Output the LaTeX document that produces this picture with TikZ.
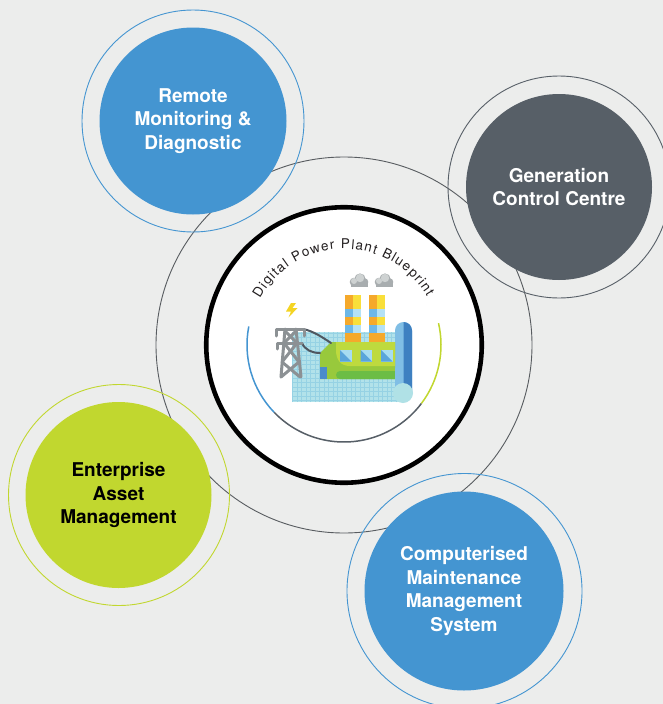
\documentclass[tikz,border=0pt]{standalone}
\usepackage{fontspec}
\setmainfont{TeX Gyre Heros}
\usetikzlibrary{decorations.text}

\definecolor{bgc}{RGB}{236,237,236}
\definecolor{hubblue}{RGB}{68,149,209}
\definecolor{hubgray}{RGB}{87,95,103}
\definecolor{hubgreen}{RGB}{193,215,47}
\definecolor{ringgray}{RGB}{88,92,96}
\definecolor{inkc}{RGB}{35,31,32}
% icon palette
\definecolor{paperc}{RGB}{178,226,234}
\definecolor{gridc}{RGB}{150,210,228}
\definecolor{rolllight}{RGB}{128,190,229}
\definecolor{rolldark}{RGB}{62,128,193}
\definecolor{curlc}{RGB}{176,225,230}
\definecolor{gmid}{RGB}{152,201,60}
\definecolor{glight}{RGB}{190,218,62}
\definecolor{gdark}{RGB}{108,189,69}
\definecolor{winlight}{RGB}{167,220,241}
\definecolor{windark}{RGB}{90,165,219}
\definecolor{sqblue}{RGB}{74,139,203}
\definecolor{warmA}{RGB}{245,169,43}
\definecolor{warmB}{RGB}{249,223,58}
\definecolor{coolA}{RGB}{109,184,232}
\definecolor{coolB}{RGB}{180,225,245}
\definecolor{cloudA}{RGB}{168,173,175}
\definecolor{cloudB}{RGB}{206,210,210}
\definecolor{pylonc}{RGB}{140,145,148}
\definecolor{cablec}{RGB}{79,87,96}
\definecolor{boltc}{RGB}{244,212,35}

\tikzset{
  bigring/.style={circle, draw=ringgray, line width=0.9pt, minimum size=376pt, inner sep=0pt},
  ring/.style={circle, draw=#1, line width=0.9pt, inner sep=0pt},
  hub/.style={circle, fill=#1, inner sep=0pt, align=center,
    font=\fontsize{19}{23.4}\selectfont\bfseries},
  core/.style={circle, draw=black, fill=white, line width=4.6pt, minimum size=275.5pt, inner sep=0pt},
  arcline/.style={line width=1.5pt, draw=#1},
}

\begin{document}
\begin{tikzpicture}[x=1pt,y=1pt]
\useasboundingbox (0,0) rectangle (663,-704);
\fill[bgc] (0,0) rectangle (663,-704);
\begin{scope}
\clip (0,0) rectangle (663,-704);

% large orbit behind everything
\node[bigring] (orbit) at (344,-345) {};

% thin outer rings
\node[ring=hubblue, minimum size=222pt] (rmdRing) at (193,-121) {};
\node[ring=hubgray, minimum size=222pt] (gccRing) at (559,-187) {};
\node[ring=hubgreen, minimum size=221pt] (eamRing) at (119,-495) {};
\node[ring=hubblue, minimum size=235pt] (cmmsRing) at (464.5,-591) {};

% filled discs with labels
\node[hub=hubblue, text=white, minimum size=187pt] (rmd) at (193,-121)
  {Remote\\Monitoring \&\\Diagnostic};
\node[hub=hubgray, text=white, minimum size=186pt] (gcc) at (559,-187)
  {Generation\\Control Centre};
\node[hub=hubgreen, text=black, minimum size=186pt] (eam) at (118.5,-495)
  {Enterprise\\Asset\\Management};
\node[hub=hubblue, text=white, minimum size=199pt] (cmms) at (464,-591)
  {Computerised\\Maintenance\\Management\\System};
\end{scope}

% central blueprint badge
\node[core] (core) at (344,-345) {};

% inner tricolour arc
\draw[arcline=hubblue] (344,-345) ++(169:97) arc[start angle=169, end angle=224, radius=97];
\draw[arcline=hubgray] (344,-345) ++(224:97) arc[start angle=224, end angle=323, radius=97];
\draw[arcline=hubgreen] (344,-345) ++(323:97) arc[start angle=323, end angle=373, radius=97];

% curved title
\path[decorate, decoration={text along path,
    text={|\fontsize{13.5}{13.5}\selectfont\color{inkc}|Digital Power Plant Blueprint},
    text align={fit to path}}]
  (344,-345) ++(151:96) arc[start angle=151, end angle=30, radius=96];

% ---- power plant icon ----
% blueprint sheet
\fill[paperc] (292,-332) rectangle (402,-402);
\begin{scope}
\clip (292,-332) rectangle (402,-402);
\draw[gridc, line width=0.5pt] (292,-332) grid[step=4.5] (402,-402);
\end{scope}
% rolled edge
\fill[rolllight] (395,-395) -- (395,-330.5) arc[start angle=180, end angle=0, radius=8.5] -- (412,-395) -- cycle;
\fill[rolldark] (403.5,-322) arc[start angle=90, end angle=0, radius=8.5] -- (412,-392) -- (403.5,-392) -- cycle;
\fill[curlc] (403,-393) circle (10);

% chimneys
\foreach \cx in {344.5,368.5}{
  \fill[warmA] (\cx,-295) rectangle ++(8,-14);
  \fill[warmB] (\cx+8,-295) rectangle ++(8,-14);
  \fill[coolA] (\cx,-309) rectangle ++(8,-8);
  \fill[coolB] (\cx+8,-309) rectangle ++(8,-8);
  \fill[warmA] (\cx,-317) rectangle ++(8,-8);
  \fill[warmB] (\cx+8,-317) rectangle ++(8,-8);
  \fill[coolA] (\cx,-325) rectangle ++(8,-8);
  \fill[coolB] (\cx+8,-325) rectangle ++(8,-8);
  \fill[warmA] (\cx,-333) rectangle ++(16,-9);
}

% smoke puffs
\foreach \px in {359,384}{
  \fill[cloudA] (\px-5,-282) circle (4.3);
  \fill[cloudA] (\px+1,-279) circle (5.6);
  \fill[cloudA] (\px+5.5,-282) circle (3.8);
  \fill[cloudA] (\px-8,-286.5) rectangle (\px+9,-282);
  \fill[cloudB] (\px+1,-278) circle (4.2);
  \fill[cloudB] (\px-5,-281) circle (3);
}

% factory hall
\fill[gmid] (320,-379) -- (320,-353) -- (331,-342) -- (395,-342) -- (395,-379) -- cycle;
\fill[glight] (336,-342) -- (395,-342) -- (395,-366) -- (350,-366)
  .. controls (340,-366) and (336,-359) .. (336,-350) -- cycle;
\fill[gdark, rounded corners=4pt] (336,-371) rectangle (399,-379);
\fill[rolllight] (395,-368) rectangle (399,-380);
\fill[sqblue] (319.5,-367) rectangle (327,-378.5);
\foreach \wx in {340,360.5,381}{
  \fill[winlight] (\wx,-350) rectangle ++(11.5,-11.5);
  \fill[windark] (\wx,-350) -- (\wx,-361.5) -- (\wx+11.5,-361.5) -- cycle;
}

% power lines
\draw[cablec, line width=2pt, line cap=round] (303,-329) .. controls (313,-331) and (322,-337) .. (331,-343);
\draw[cablec, line width=2pt, line cap=round] (302,-343) .. controls (305,-350) and (312,-353) .. (320,-353);

% pylon
\begin{scope}[pylonc, line width=3pt, line cap=round, line join=round]
\draw (276,-336) -- (276,-329) -- (304,-329) -- (304,-336);
\draw (277,-349) -- (277,-343) -- (302,-343);
\draw (285,-329) -- (281,-377);
\draw (296,-329) -- (301,-377);
\draw (285,-331) -- (297,-343) -- (282,-362) -- (300,-377);
\draw (296,-331) -- (284,-343) -- (299,-362) -- (281,-377);
\end{scope}

% lightning bolt
\fill[boltc] (291,-303) -- (286,-311.5) -- (291,-311.5) -- (288.5,-317.5)
  -- (297.5,-308) -- (292.5,-308) -- (296,-303) -- cycle;
\end{tikzpicture}
\end{document}
